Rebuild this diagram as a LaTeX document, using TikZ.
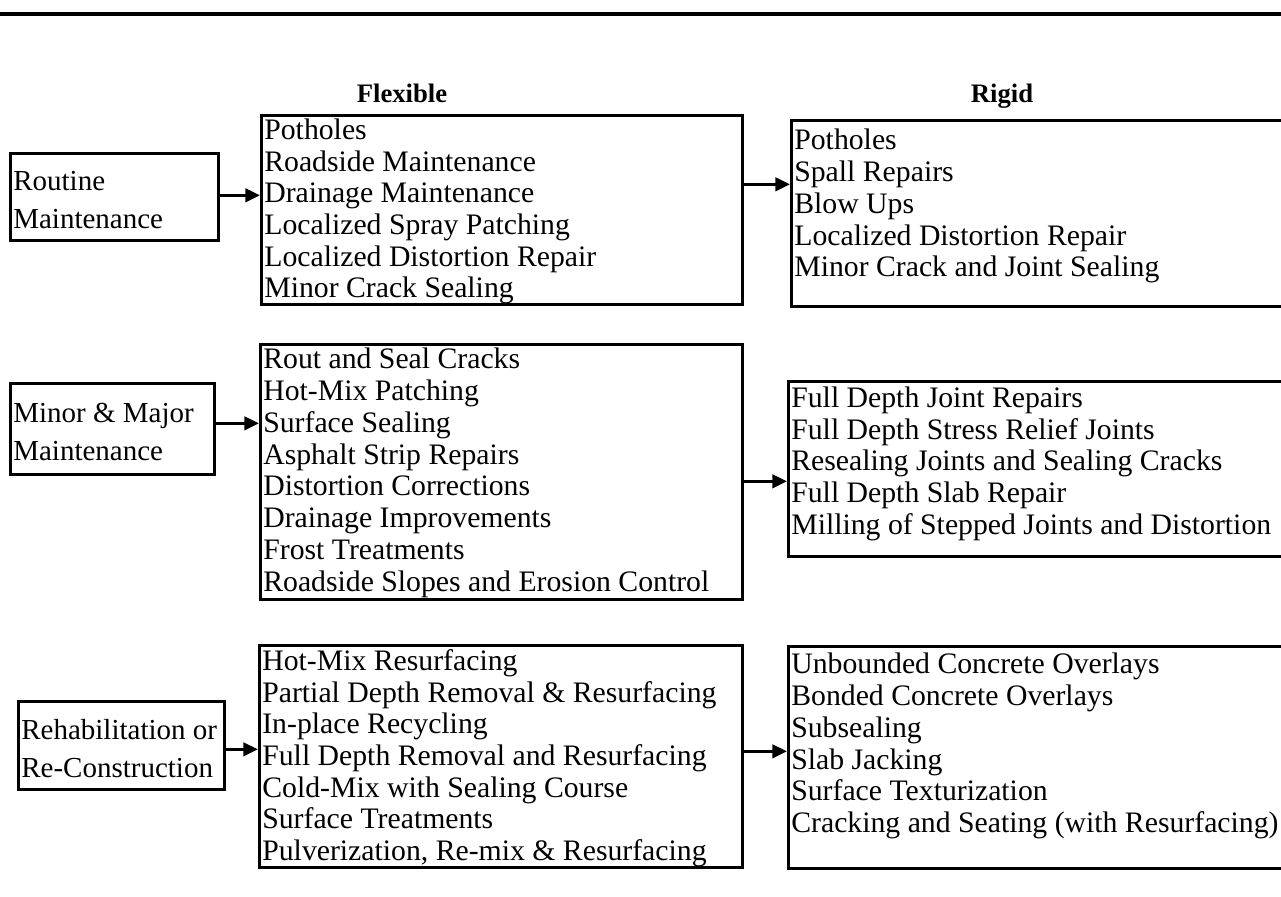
\documentclass[tikz,border=0pt]{standalone}
\usepackage{fontspec}
\setmainfont{Liberation Serif}
\usetikzlibrary{arrows.meta,calc}

\begin{document}
\begin{tikzpicture}[x=0.75pt,y=0.75pt,yscale=-1,xscale=1,
  stagebox/.style={draw, line width=2pt, anchor=north west, inner xsep=2.25pt, inner ysep=0pt,
    font=\fontsize{21.75}{28.5}\selectfont},
  listbox/.style={draw, line width=2pt, anchor=north west, inner xsep=2.25pt, inner ysep=0pt,
    font=\fontsize{22.3}{23.8}\selectfont},
  colhead/.style={anchor=base, font=\fontsize{20}{22}\selectfont\bfseries},
  feed/.style={-{Triangle[length=11pt,width=10pt]}, line width=2.4pt}]
%set diagram left start at 0, and has height of 896
\useasboundingbox (0,0) rectangle (1281,896);

%Shape: Line [top rule]
\draw [line width=3pt] (0,14) -- (1281,14) ;

% Text Node
\node (flexhead) [colhead] at (402,102) {Flexible};
% Text Node
\node (rigidhead) [colhead] at (1002,102) {Rigid};

% Stage boxes
\node (stage1) [stagebox] at (9,152) {\begin{minipage}[t][65.25pt][t]{151.5pt}\vspace{13.5pt}
Routine\\
Maintenance
\end{minipage}};
\node (stage2) [stagebox] at (9,382) {\begin{minipage}[t][68.25pt][t]{148.5pt}\vspace{15pt}
Minor \& Major\\
Maintenance
\end{minipage}};
\node (stage3) [stagebox] at (17,700) {\begin{minipage}[t][66pt][t]{150pt}\vspace{13.5pt}
Rehabilitation or\\
Re-Construction
\end{minipage}};

% Flexible boxes
\node (flex1) [listbox] at (260,114) {\begin{minipage}[t][141.75pt][t]{356.25pt}\vspace{2.5pt}
Potholes\\
Roadside Maintenance\\
Drainage Maintenance\\
Localized Spray Patching\\
Localized Distortion Repair\\
Minor Crack Sealing
\end{minipage}};
\node (flex2) [listbox] at (259,343) {\begin{minipage}[t][191.25pt][t]{357pt}\vspace{3pt}
Rout and Seal Cracks\\
Hot-Mix Patching\\
Surface Sealing\\
Asphalt Strip Repairs\\
Distortion Corrections\\
Drainage Improvements\\
Frost Treatments\\
Roadside Slopes and Erosion Control
\end{minipage}};
\node (flex3) [listbox] at (258,644) {\begin{minipage}[t][166.5pt][t]{357.75pt}\vspace{3pt}
Hot-Mix Resurfacing\\
Partial Depth Removal \& Resurfacing\\
In-place Recycling\\
Full Depth Removal and Resurfacing\\
Cold-Mix with Sealing Course\\
Surface Treatments\\
Pulverization, Re-mix \& Resurfacing
\end{minipage}};

% Rigid boxes
\node (rigid1) [listbox] at (790,119) {\begin{minipage}[t][139.5pt][t]{378pt}\vspace{6.75pt}
Potholes\\
Spall Repairs\\
Blow Ups\\
Localized Distortion Repair\\
Minor Crack and Joint Sealing
\end{minipage}};
\node (rigid2) [listbox] at (787,380) {\begin{minipage}[t][131.25pt][t]{380pt}\vspace{4pt}
Full Depth Joint Repairs\\
Full Depth Stress Relief Joints\\
Resealing Joints and Sealing Cracks\\
Full Depth Slab Repair\\
Milling of Stepped Joints and Distortion
\end{minipage}};
\node (rigid3) [listbox] at (787,645) {\begin{minipage}[t][166.5pt][t]{380pt}\vspace{5.25pt}
Unbounded Concrete Overlays\\
Bonded Concrete Overlays\\
Subsealing\\
Slab Jacking\\
Surface Texturization\\
Cracking and Seating (with Resurfacing)
\end{minipage}};

% Arrow start points
\coordinate (s1out) at ($(stage1.east)+(0,-1.5)$);
\coordinate (s2out) at ($(stage2.east)+(0,-5.5)$);
\coordinate (s3out) at ($(stage3.east)+(0,4)$);
\coordinate (f1out) at ($(flex1.east)+(0,-25.5)$);
\coordinate (f2out) at ($(flex2.east)+(0,9.5)$);
\coordinate (f3out) at ($(flex3.east)+(0,-5)$);

% Arrows
\draw [feed] (s1out) -- (s1out -| flex1.west) ;
\draw [feed] (s2out) -- (s2out -| flex2.west) ;
\draw [feed] (s3out) -- (s3out -| flex3.west) ;
\draw [feed] (f1out) -- (f1out -| rigid1.west) ;
\draw [feed] (f2out) -- (f2out -| rigid2.west) ;
\draw [feed] (f3out) -- (f3out -| rigid3.west) ;

\end{tikzpicture}
\end{document}
